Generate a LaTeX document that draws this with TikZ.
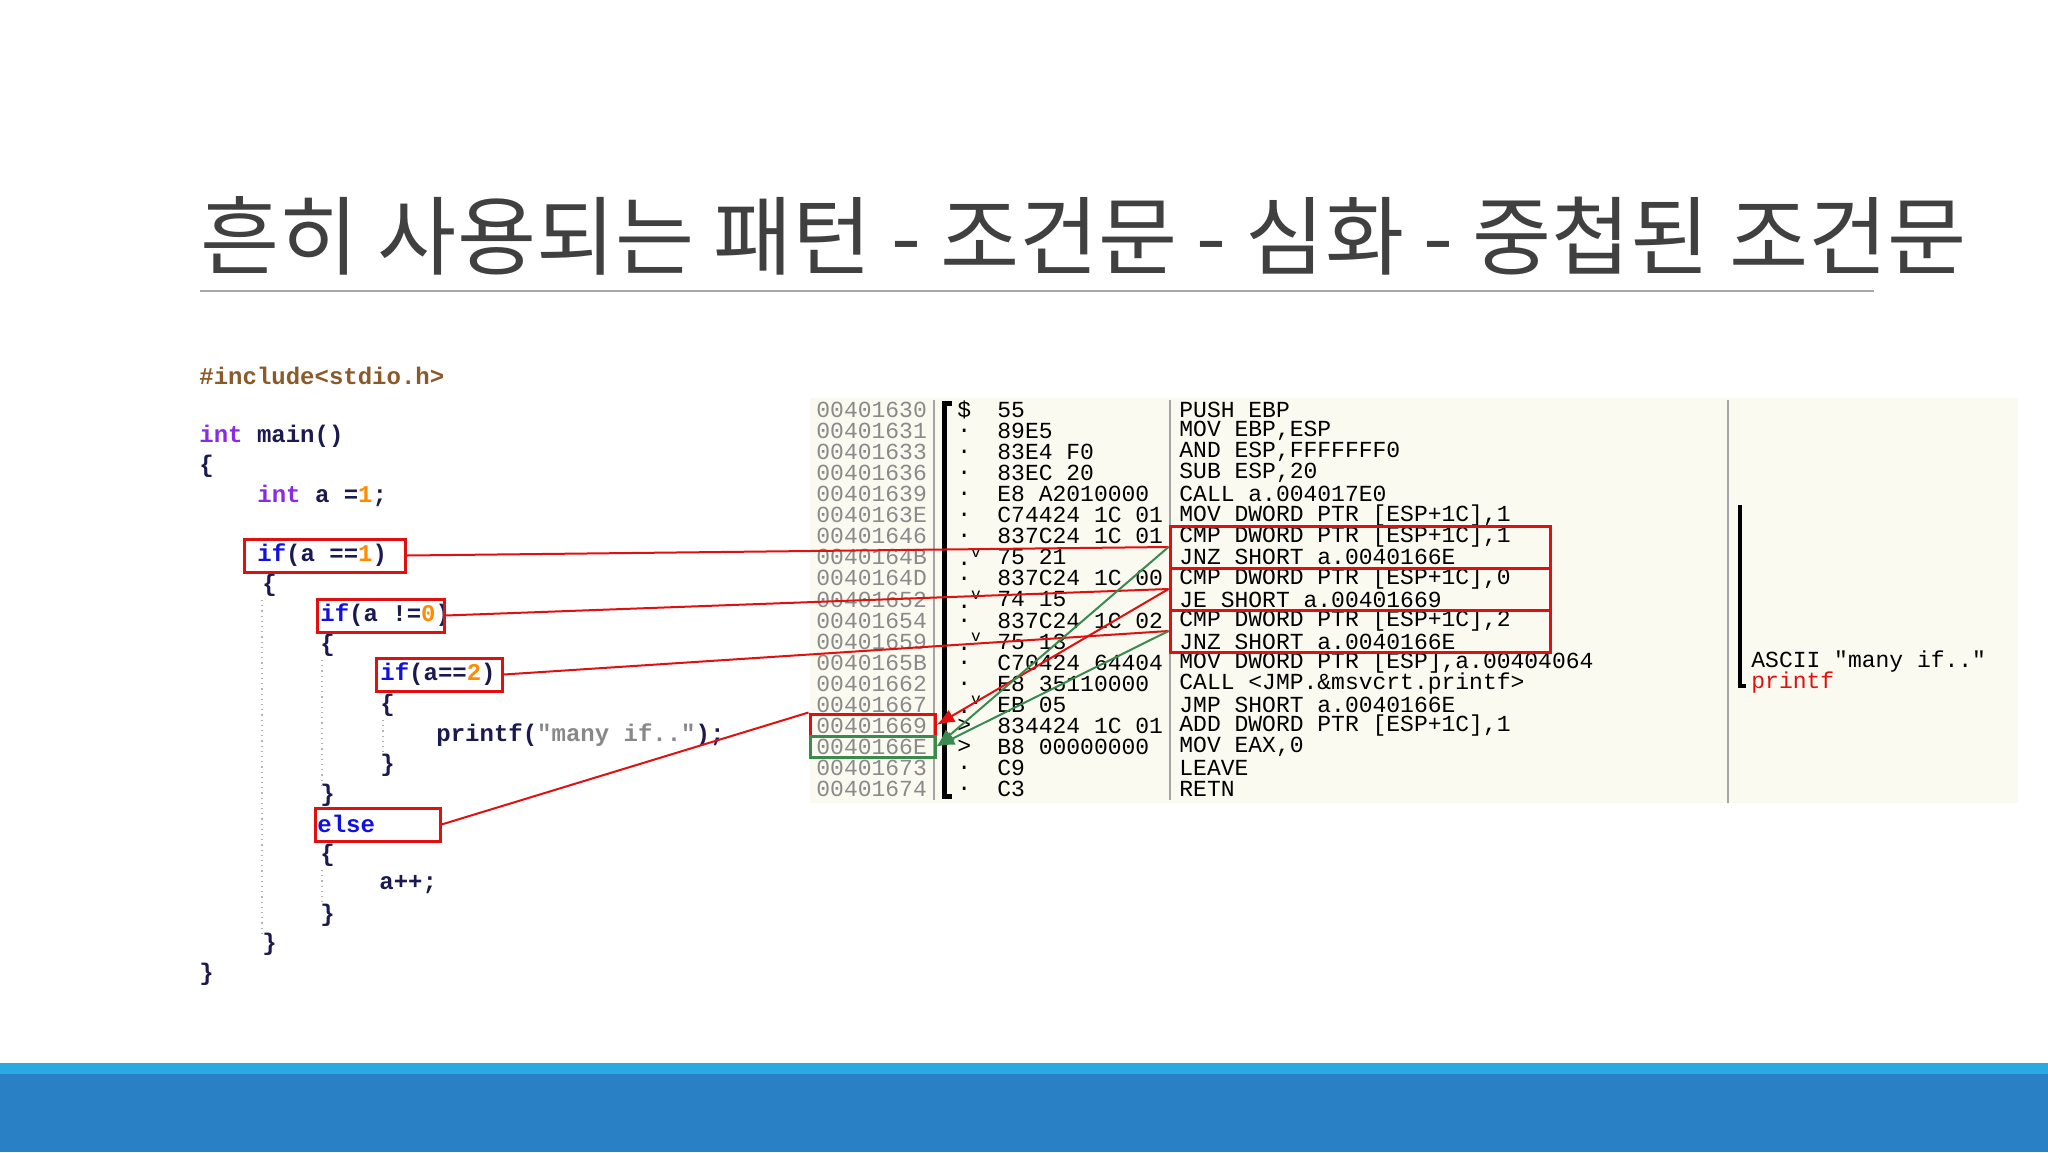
\documentclass[tikz,border=0pt]{standalone}
\usepackage{fontspec}
\setmonofont{Liberation Mono}
\newfontfamily\krfont{Noto Sans CJK KR}
\usetikzlibrary{arrows.meta}
\definecolor{ttl}{HTML}{404040}
\definecolor{kw}{HTML}{8A2BE2}
\definecolor{ifc}{HTML}{1010E0}
\definecolor{num}{HTML}{FF8C00}
\definecolor{strc}{HTML}{888888}
\definecolor{inc}{HTML}{8B5A2B}
\definecolor{br}{HTML}{1A1A50}
\definecolor{addr}{HTML}{8A8A8A}
\definecolor{gr}{HTML}{3A8A50}
\definecolor{redc}{HTML}{E01010}
\definecolor{lb}{HTML}{29ABE2}
\definecolor{db}{HTML}{2A80C4}
\definecolor{panel}{HTML}{FBFAF0}
\tikzset{
 code/.style={anchor=west,inner sep=0,font=\ttfamily\bfseries\fontsize{12pt}{12pt}\selectfont,text=br},
 asm/.style={anchor=west,inner sep=0,font=\ttfamily\fontsize{11.5pt}{11.5pt}\selectfont},
 rbox/.style={draw=redc,line width=1.5pt,inner sep=0},
 gbox/.style={draw=gr,line width=1.5pt,inner sep=0},
 rline/.style={draw=redc,line width=1pt},
 gline/.style={draw=gr,line width=1pt},
 guide/.style={draw=gray!60,dotted,line width=0.6pt}
}
\begin{document}
\begin{tikzpicture}[x=0.5pt,y=-0.5pt]
\useasboundingbox (0,0) rectangle (2048,1152);
\fill[white] (0,0) rectangle (2048,1152);
% title
\node[anchor=west,inner sep=0,font=\krfont\fontsize{43pt}{43pt}\selectfont,text=ttl] (title) at (200,236) {흔히 사용되는 패턴 - 조건문 - 심화 - 중첩된 조건문};
\draw[gray!70,line width=1pt] (200,291) -- (1874,291);
% bottom bar
\fill[lb] (0,1063) rectangle (2048,1074);
\fill[db] (0,1074) rectangle (2048,1152);
% panel
\fill[panel] (810,398) rectangle (2018,803);
% code
\node[code,text=inc] (inc) at (199,376) {\#include<stdio.h>};
\node[code] (main) at (199,436) {\textcolor{kw}{int} main()};
\node[code] (b1) at (199,466) {\{};
\node[code] (decl) at (257,496) {\textcolor{kw}{int} a =\textcolor{num}{1};};
\node[code] (if1) at (257,555) {\textcolor{ifc}{if}(a ==\textcolor{num}{1})};
\node[code] (b2) at (262,585) {\{};
\node[code] (if2) at (320,615) {\textcolor{ifc}{if}(a !=\textcolor{num}{0})};
\node[code] (b3) at (320,645) {\{};
\node[code] (if3) at (380,674) {\textcolor{ifc}{if}(a==\textcolor{num}{2})};
\node[code] (b4) at (380,705) {\{};
\node[code] (pr) at (436,735) {printf(\textcolor{strc}{"many if.."});};
\node[code] (b5) at (380,765) {\}};
\node[code] (b6) at (320,795) {\}};
\node[code,text=ifc] (els) at (317,824) {else};
\node[code] (b7) at (320,855) {\{};
\node[code] (inc2) at (379,885) {a++;};
\node[code] (b8) at (320,915) {\}};
\node[code] (b9) at (262,944) {\}};
\node[code] (b10) at (199,974) {\}};
\draw[guide] (262,600) -- (262,935);
\draw[guide] (322,660) -- (322,785);
\draw[guide] (322,870) -- (322,905);
\draw[guide] (383,720) -- (383,755);
% code boxes (sizes in pt = px/2)
\node[rbox,minimum width=80.5pt,minimum height=16.5pt] (bx1) at (324.5,555.5) {};
\node[rbox,minimum width=63.5pt,minimum height=16.5pt] (bx2) at (380.5,615.5) {};
\node[rbox,minimum width=63pt,minimum height=16.5pt] (bx3) at (439,674.5) {};
\node[rbox,minimum width=62.5pt,minimum height=16.5pt] (bx4) at (377.5,824.5) {};
% asm
\def\addrs{00401630,00401631,00401633,00401636,00401639,0040163E,00401646,0040164B,0040164D,00401652,00401654,00401659,0040165B,00401662,00401667,00401669,0040166E,00401673,00401674}
\def\marks{{\$},.,.,.,.,.,.,.\textsuperscript{v},.,.\textsuperscript{v},.,.\textsuperscript{v},.,.,.\textsuperscript{v},>,>,.,.}
\def\hexs{55,89E5,83E4 F0,83EC 20,E8 A2010000,C74424 1C 01,837C24 1C 01,75 21,837C24 1C 00,74 15,837C24 1C 02,75 13,C70424 64404,E8 35110000,EB 05,834424 1C 01,B8 00000000,C9,C3}
\foreach \a [count=\i from 0] in \addrs {\node[asm,text=addr] (ad\i) at (816,410+21.05*\i) {\a};}
\foreach \m [count=\i from 0] in \marks {\node[asm] (mk\i) at (957,410+21.05*\i) {\m};}
\foreach \h [count=\i from 0] in \hexs {\node[asm] (hx\i) at (997,410+21.05*\i) {\h};}
\node[asm] (in0) at (1179,410) {PUSH EBP};
\node[asm] (in1) at (1179,431.05) {MOV EBP,ESP};
\node[asm] (in2) at (1179,452.1) {AND ESP,FFFFFFF0};
\node[asm] (in3) at (1179,473.15) {SUB ESP,20};
\node[asm] (in4) at (1179,494.2) {CALL a.004017E0};
\node[asm] (in5) at (1179,515.25) {MOV DWORD PTR [ESP+1C],1};
\node[asm] (in6) at (1179,536.3) {CMP DWORD PTR [ESP+1C],1};
\node[asm] (in7) at (1179,557.35) {JNZ SHORT a.0040166E};
\node[asm] (in8) at (1179,578.4) {CMP DWORD PTR [ESP+1C],0};
\node[asm] (in9) at (1179,599.45) {JE SHORT a.00401669};
\node[asm] (in10) at (1179,620.5) {CMP DWORD PTR [ESP+1C],2};
\node[asm] (in11) at (1179,641.55) {JNZ SHORT a.0040166E};
\node[asm] (in12) at (1179,662.6) {MOV DWORD PTR [ESP],a.00404064};
\node[asm] (in13) at (1179,683.65) {CALL <JMP.\&msvcrt.printf>};
\node[asm] (in14) at (1179,704.7) {JMP SHORT a.0040166E};
\node[asm] (in15) at (1179,725.75) {ADD DWORD PTR [ESP+1C],1};
\node[asm] (in16) at (1179,746.8) {MOV EAX,0};
\node[asm] (in17) at (1179,767.85) {LEAVE};
\node[asm] (in18) at (1179,788.9) {RETN};
\draw[gray!70,line width=0.8pt] (934,400) -- (934,800);
\draw[gray!70,line width=0.8pt] (1170,400) -- (1170,800);
\draw[gray!70,line width=0.8pt] (1728,400) -- (1728,803);
\draw[black,line width=2.5pt] (952,403) -- (944,403) -- (944,796) -- (952,796);
% right comment
\draw[black,line width=2pt] (1740,505) -- (1740,686) -- (1746,686);
\node[asm] (asc) at (1751,662) {ASCII "many if.."};
\node[asm,text=redc] (pf) at (1751,683) {printf};
% asm boxes
\node[rbox,minimum width=190pt,minimum height=21pt] (ab1) at (1360,547) {};
\node[rbox,minimum width=190pt,minimum height=21pt] (ab2) at (1360,589) {};
\node[rbox,minimum width=190pt,minimum height=21pt] (ab3) at (1360,631) {};
\node[rbox,minimum width=62.5pt,minimum height=11pt] (t1) at (872.5,725) {};
\node[gbox,minimum width=62.5pt,minimum height=10.5pt] (t2) at (872.5,746.5) {};
% connectors
\draw[rline] (bx1.east) -- (ab1.west);
\draw[rline] (bx2.east) -- (ab2.west);
\draw[rline] (bx3.east) -- (ab3.west);
\draw[rline] (bx4.east) -- (t1.north west);
\draw[rline,-{Latex[length=9pt,width=7pt]}] (ab2.west) -- (t1.east);
\draw[gline,-{Latex[length=9pt,width=7pt]}] (ab1.west) -- (t2.east);
\draw[gline,-{Latex[length=9pt,width=7pt]}] (ab3.west) -- (t2.east);
\end{tikzpicture}
\end{document}
